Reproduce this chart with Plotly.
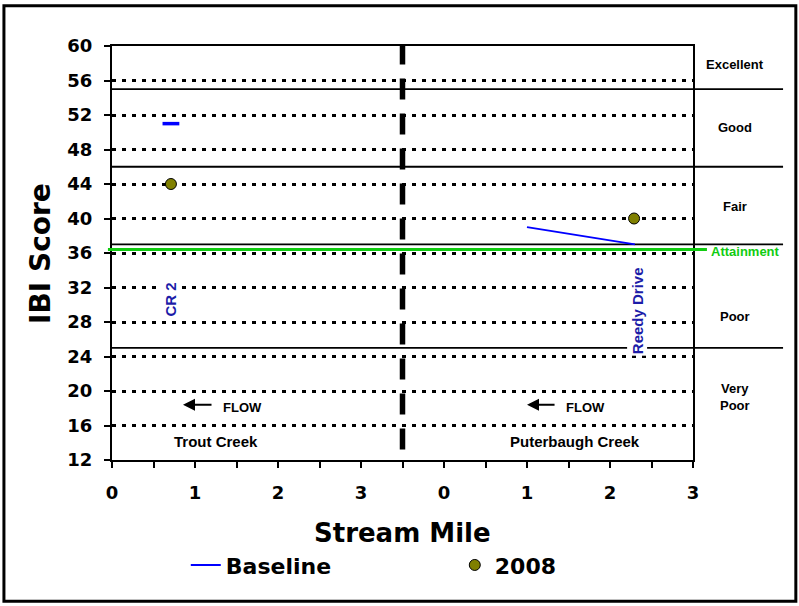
import plotly.graph_objects as go

# ---- data (x on the plotted axis: Trout Creek 0-3, Puterbaugh Creek 4-7 = mile 0-3) ----
x_tickvals = [0, 1, 2, 3, 4, 5, 6, 7]
x_ticktext = ["0", "1", "2", "3", "0", "1", "2", "3"]

baseline_x = [5.0, 6.3]
baseline_y = [39, 37]
baseline_single_x = [0.71]
baseline_single_y = [51]

y2008_x = [0.71, 6.29]
y2008_y = [44, 40]

rating_bounds = [55, 46, 37, 25]
rating_labels = ["Excellent", "Good", "Fair", "Poor", "Very<br>Poor"]
rating_label_y = [57.9, 50.6, 41.4, 28.6, 19.3]
attainment = 36.4

site_names = ["CR 2", "Reedy Drive"]
site_x = [0.71, 6.33]
site_y = [30.6, 29.3]

creek_names = ["Trout Creek", "Puterbaugh Creek"]
creek_x = [1.25, 5.58]
creek_y = [14.2, 14.2]

flow_head_x = [0.855, 5.0]
flow_tail_x = [1.217, 5.35]
flow_text_x = [1.57, 5.71]
flow_y = 18.4

divider_x = 3.5

DV = "DejaVu Sans"
AR = "Liberation Sans, Arial"

fig = go.Figure()

fig.add_trace(go.Scatter(
    x=baseline_x, y=baseline_y, mode="lines", name="Baseline",
    line=dict(color="#0000FF", width=2), legendgroup="b"))
fig.add_trace(go.Scatter(
    x=baseline_single_x, y=baseline_single_y, mode="markers", name="Baseline",
    marker=dict(symbol="line-ew-open", size=12, color="#0000FF",
                line=dict(color="#0000FF", width=3.5)),
    showlegend=False, legendgroup="b"))
fig.add_trace(go.Scatter(
    x=y2008_x, y=y2008_y, mode="markers", name="2008",
    marker=dict(color="#808000", size=11, line=dict(color="black", width=1))))

shapes = []
for b in rating_bounds:
    shapes.append(dict(type="line", xref="paper", yref="y", x0=0, x1=1.155, y0=b, y1=b,
                       line=dict(color="black", width=1.8), layer="below"))
shapes.append(dict(type="line", xref="paper", yref="y", x0=-0.007, x1=1.024,
                   y0=attainment, y1=attainment, line=dict(color="#11CC11", width=3)))
shapes.append(dict(type="line", xref="x", yref="y", x0=divider_x, x1=divider_x, y0=60.3, y1=12,
                   line=dict(color="black", width=5.5, dash="21px,14px")))
shapes.append(dict(type="rect", xref="paper", yref="paper", x0=-0.186, x1=1.177,
                   y0=-0.341, y1=1.097, line=dict(color="black", width=3)))

ann = []
for lab, yy in zip(rating_labels, rating_label_y):
    ann.append(dict(xref="paper", yref="y", x=1.072, y=yy, xanchor="center", yanchor="middle",
                    text=f"<b>{lab}</b>", showarrow=False,
                    font=dict(family=AR, size=13, color="black")))
ann.append(dict(xref="paper", yref="y", x=1.091, y=attainment, yshift=-2, xanchor="center",
                yanchor="middle", text="<b>Attainment</b>",
                showarrow=False, font=dict(family=AR, size=13, color="#11CC11")))
for n, xx, yy in zip(site_names, site_x, site_y):
    ann.append(dict(x=xx, y=yy, text=f"<b>{n}</b>", showarrow=False, textangle=-90,
                    xanchor="center", yanchor="middle",
                    bgcolor="white", font=dict(family=AR, size=15, color="#1C1CA8")))
for n, xx, yy in zip(creek_names, creek_x, creek_y):
    ann.append(dict(x=xx, y=yy, text=f"<b>{n}</b>", showarrow=False, xanchor="center",
                    font=dict(family=AR, size=15, color="black")))
for hx, tx, fx in zip(flow_head_x, flow_tail_x, flow_text_x):
    ann.append(dict(x=hx, y=flow_y, ax=tx, ay=flow_y, axref="x", ayref="y", text="",
                    showarrow=True, arrowhead=2, arrowsize=1.2, arrowwidth=2, arrowcolor="black"))
    ann.append(dict(x=fx, y=flow_y - 0.3, text="<b>FLOW</b>", showarrow=False, xanchor="center",
                    font=dict(family=AR, size=13, color="black")))
ann.append(dict(xref="paper", yref="paper", x=-0.124, y=0.5, text="<b>IBI Score</b>", textangle=-90,
                xanchor="center", yanchor="middle",
                showarrow=False, font=dict(family=DV, size=28, color="black")))
ann.append(dict(xref="paper", yref="paper", x=0.500, y=-0.176, text="<b>Stream Mile</b>",
                xanchor="center", yanchor="middle",
                showarrow=False, font=dict(family=DV, size=26, color="black")))

fig.update_layout(
    width=799, height=606,
    margin=dict(l=112, r=106, t=46, b=146),
    paper_bgcolor="white", plot_bgcolor="white",
    shapes=shapes, annotations=ann,
    showlegend=True,
    legend=dict(orientation="h", x=0.127, xanchor="left", y=-0.254, yanchor="middle",
                font=dict(family=DV, size=22, color="black", weight="bold"),
                bgcolor="rgba(0,0,0,0)", entrywidth=224, entrywidthmode="pixels"),
    xaxis=dict(range=[0, 7], tickvals=x_tickvals, ticktext=x_ticktext,
               ticks="outside", ticklen=6, tickwidth=1.5, tickcolor="black",
               minor=dict(ticks="outside", tick0=0, dtick=0.5, ticklen=6, tickwidth=1.5, tickcolor="black"),
               showline=True, linewidth=2, linecolor="black", mirror=True,
               showgrid=False, zeroline=False, ticklabelstandoff=9,
               tickfont=dict(family=DV, size=18, color="black", weight="bold")),
    yaxis=dict(range=[12, 60], tick0=12, dtick=4,
               ticks="outside", ticklen=6, tickwidth=1.5, tickcolor="black",
               showline=True, linewidth=2, linecolor="black", mirror=True,
               showgrid=True, gridcolor="black", gridwidth=2.5, griddash="4px,6px",
               zeroline=False, ticklabelstandoff=8,
               tickfont=dict(family=DV, size=18, color="black", weight="bold")),
)

fig.write_html("out.html", config={"displayModeBar": False},
               post_script="document.body.style.margin='0px';")
